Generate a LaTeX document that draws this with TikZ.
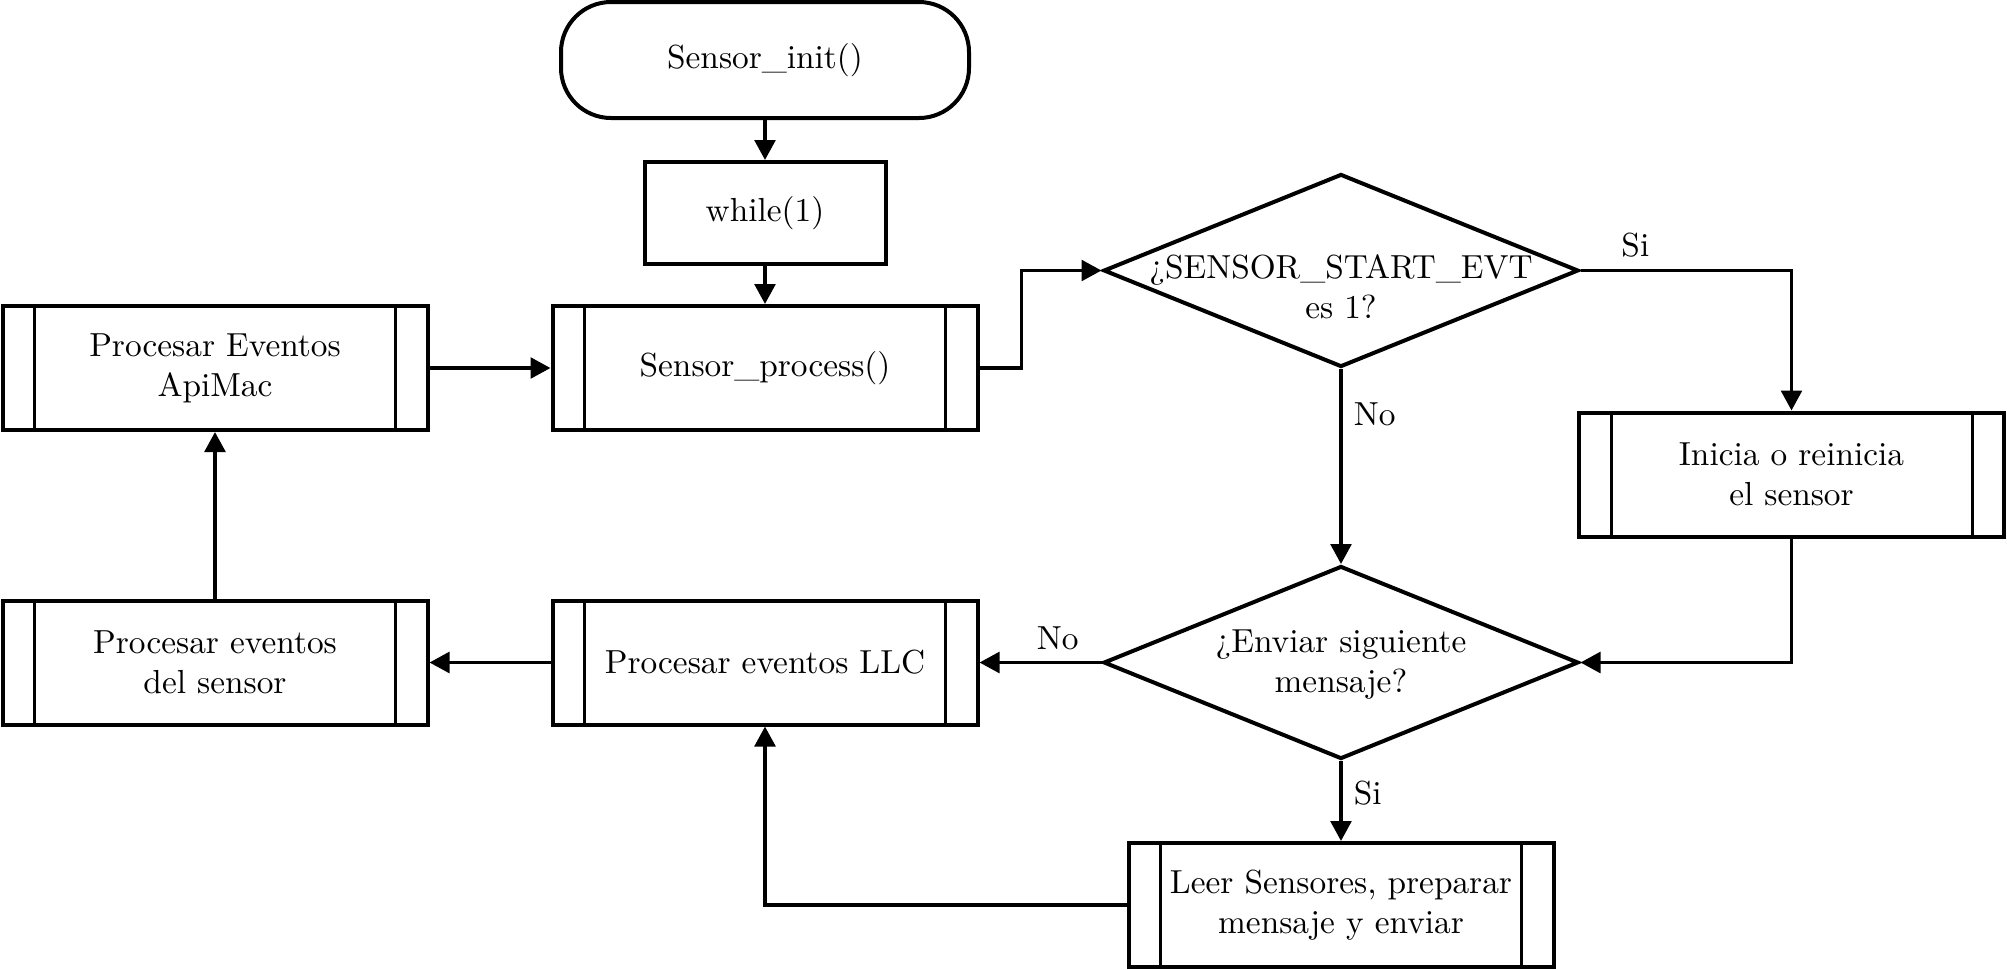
\documentclass[tikz,border=0pt]{standalone}
\usetikzlibrary{shapes.geometric,arrows.meta}
\begin{document}
\begin{tikzpicture}[x=0.3pt,y=-0.3pt,
  every node/.style={font=\normalsize},
  base/.style={draw, line width=1.2pt, align=center, inner sep=2pt},
  startbox/.style={base, rounded corners=15pt, minimum width=122.4pt, minimum height=34.8pt},
  plainbox/.style={base, rectangle, minimum width=72.3pt, minimum height=30.6pt},
  procbox/.style={base, rectangle, minimum width=127.5pt, minimum height=37.2pt,
     path picture={\draw[line width=0.9pt]
       ([xshift=9.6pt]path picture bounding box.north west) -- ([xshift=9.6pt]path picture bounding box.south west)
       ([xshift=-9.6pt]path picture bounding box.north east) -- ([xshift=-9.6pt]path picture bounding box.south east);}},
  decision/.style={base, diamond, minimum width=142.5pt, minimum height=57.9pt, inner sep=0pt},
  dtext/.style={align=center, inner sep=0pt},
  conn/.style={line width=1.1pt, -{Triangle[length=6pt,width=6.2pt]}},
  lbl/.style={inner sep=3.3pt}
]
\useasboundingbox (0,0) rectangle (2007,969);

\node[startbox] (init) at (765,60) {Sensor\_init()};
\node[plainbox] (while) at (765,213) {while(1)};
\node[procbox] (sp) at (765,368) {Sensor\_process()};
\node[procbox] (api) at (215,368) {Procesar Eventos\\ApiMac};
\node[decision] (d1) at (1341,270.5) {};
\node[dtext] (d1t) at (1341,287) {¿SENSOR\_START\_EVT\\es 1?};
\node[procbox] (ini) at (1791.5,474.5) {Inicia o reinicia\\el sensor};
\node[decision] (d2) at (1341,662.5) {};
\node[dtext] (d2t) at (1341,665) {¿Enviar siguiente\\mensaje?};
\node[procbox] (llc) at (765,662.5) {Procesar eventos LLC};
\node[procbox] (dels) at (215,662.5) {Procesar eventos\\del sensor};
\node[procbox] (leer) at (1341,905) {Leer Sensores, preparar\\mensaje y enviar};

\draw[conn] (init) -- (while);
\draw[conn] (while) -- (sp);
\draw[conn] (api) -- (sp);
\draw[conn] (sp.east) -- ++(42,0) |- (d1.west);
\draw[conn] (d1.east) -| node[lbl, above, pos=0.13] (si1) {Si} (ini.north);
\draw[conn] (d1.south) -- node[lbl, right, pos=0.23] (no1) {No} (d2.north);
\draw[conn] (ini.south) |- (d2.east);
\draw[conn] (d2.west) -- node[lbl, above, pos=0.36] (no2) {No} (llc.east);
\draw[conn] (llc.west) -- (dels.east);
\draw[conn] (dels.north) -- (api.south);
\draw[conn] (d2.south) -- node[lbl, right, pos=0.4] (si2) {Si} (leer.north);
\draw[conn] (leer.west) -| (llc.south);
\end{tikzpicture}
\end{document}
